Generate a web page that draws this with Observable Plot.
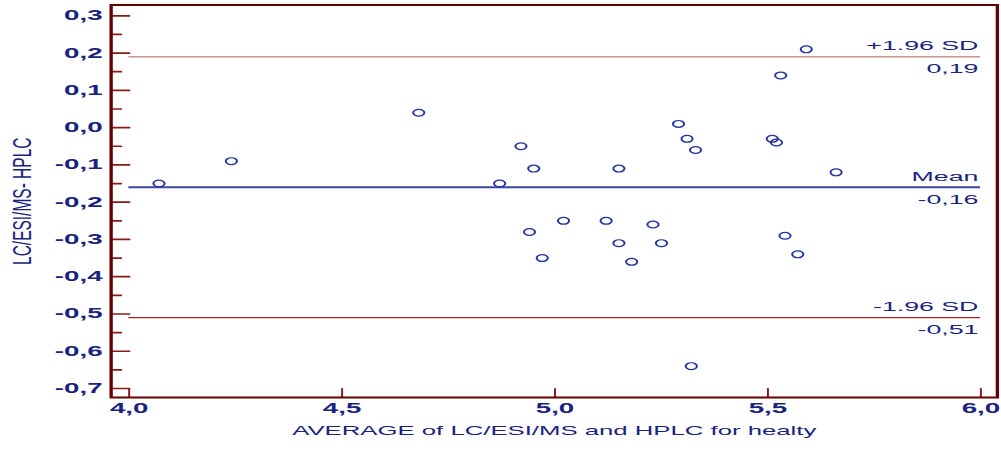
<!DOCTYPE html>
<html>
<head>
<meta charset="utf-8">
<script src="https://cdn.jsdelivr.net/npm/d3@7"></script>
<script src="https://cdn.jsdelivr.net/npm/@observablehq/plot@0.6"></script>
<style>
  html, body { margin: 0; padding: 0; background: #fff; overflow: hidden; }
  #chart svg { display: block; transform-origin: 0 0; }
</style>
</head>
<body>
<div id="chart"></div>
<script>
// Bland–Altman plot: LC/ESI/MS versus HPLC in healthy subjects

// Mean of the two methods (x) and their difference (y), one entry per subject
const average = [4.07, 4.24, 4.68, 4.92, 4.95, 4.87, 4.94, 4.97, 5.02, 5.12, 5.15, 5.15, 5.18,
                 5.23, 5.25, 5.29, 5.31, 5.33, 5.32, 5.51, 5.52, 5.53, 5.59, 5.54, 5.57, 5.66];
const difference = [-0.15, -0.09, 0.04, -0.05, -0.11, -0.15, -0.28, -0.35, -0.25, -0.25, -0.11, -0.31, -0.36,
                    -0.26, -0.31, 0.01, -0.03, -0.06, -0.64, -0.03, -0.04, 0.14, 0.21, -0.29, -0.34, -0.12];

// Mean difference and limits of agreement
const limitLabels = ["+1.96 SD", "Mean", "-1.96 SD"];
const limitValues = [0.19, -0.16, -0.51];

// Axis ticks
const xTicks = [4.0, 4.5, 5.0, 5.5, 6.0];
const yTicks = [0.3, 0.2, 0.1, 0.0, -0.1, -0.2, -0.3, -0.4, -0.5, -0.6, -0.7];
const yMinorTicks = [0.25, 0.15, 0.05, -0.05, -0.15, -0.25, -0.35, -0.45, -0.55, -0.65];

const xTitle = "AVERAGE of LC/ESI/MS and HPLC for healty";
const yTitle = "LC/ESI/MS- HPLC";

// ---- presentation ----
const W = 607, H = 450;
const SX = 1001 / W;          // the whole chart is drawn wide
const TEXT_STRETCH = 1.2;     // extra width for the lettering
const ink = "#1a237e";
const frameColor = "#660000";
const tickColor = "#8b1a1a";
const limitStroke = ["#c99494", "#3b449e", "#a82424"];
const limitWidth = [1.5, 2, 1.2];

const locale = d3.formatLocale({decimal: ",", thousands: ".", grouping: [3], currency: ["", ""], minus: "-"});
const f1 = locale.format(".1f");
const f2 = locale.format(".2f");

const points = average.map((a, i) => ({a, d: difference[i]}));
const limits = limitValues.map((value, i) => ({label: limitLabels[i], value}));
const xStart = xTicks[0], xEnd = xTicks[xTicks.length - 1];

// straight tick stroke for vector marks
const tickLine = {draw(ctx, l) { ctx.moveTo(0, 0); ctx.lineTo(0, -l); }};

const chart = Plot.plot({
  width: W,
  height: H,
  marginLeft: 66.9,
  marginRight: 2.7,
  marginTop: 4.5,
  marginBottom: 53,
  x: {domain: [3.9577, 6.0387], axis: null},
  y: {domain: [-0.7241, 0.329], axis: null},
  style: {fontFamily: "'Liberation Sans', Arial, sans-serif", background: "#fff", overflow: "visible"},
  marks: [
    ...limits.map((l, i) => Plot.ruleY([l], {
      y: "value", x1: () => xStart, x2: () => xEnd,
      stroke: limitStroke[i], strokeWidth: limitWidth[i]
    })),
    Plot.dot(points, {x: "a", y: "d", r: 3.4, fill: "none", stroke: "#2233a0", strokeWidth: 1.2}),
    Plot.vector(yTicks, {y: d => d, frameAnchor: "left", length: 10.9, rotate: 90, anchor: "start",
      shape: tickLine, stroke: tickColor, strokeWidth: 1.7}),
    Plot.vector(yMinorTicks, {y: d => d, frameAnchor: "left", length: 5.9, rotate: 90, anchor: "start",
      shape: tickLine, stroke: tickColor, strokeWidth: 1.7}),
    Plot.vector(xTicks, {x: d => d, frameAnchor: "bottom", length: 9, rotate: 0, anchor: "start",
      shape: tickLine, stroke: tickColor, strokeWidth: 1.2}),
    Plot.frame({stroke: frameColor, strokeWidth: 2}),
    Plot.text(yTicks, {y: d => d, frameAnchor: "left", dx: -5.2, textAnchor: "end", text: d => f1(d),
      fill: ink, fontSize: 14, fontWeight: "bold"}),
    Plot.text(xTicks, {x: d => d, frameAnchor: "bottom", dy: 15.5, text: d => f1(d),
      fill: ink, fontSize: 14, fontWeight: "bold"}),
    Plot.text(limits, {x: () => xEnd, y: "value", text: "label", textAnchor: "end", dx: -1.5, dy: -11,
      fill: ink, fontSize: 13.5}),
    Plot.text(limits, {x: () => xEnd, y: "value", text: d => f2(d.value), textAnchor: "end", dx: -1.5, dy: 12,
      fill: ink, fontSize: 13.5}),
    Plot.text([xTitle], {frameAnchor: "bottom", dy: 37, text: d => d, fill: ink, fontSize: 13}),
    Plot.text([yTitle], {frameAnchor: "left", dx: -53.6, rotate: -90, textAnchor: "middle", text: d => d,
      fill: ink, fontSize: 15.5})
  ]
});

// widen horizontal lettering around its anchor point
chart.querySelectorAll("text").forEach(t => {
  const tr = t.getAttribute("transform") || "";
  if (tr.includes("rotate")) return;
  if (tr) {
    t.setAttribute("transform", `${tr} scale(${TEXT_STRETCH},1)`);
  } else {
    const x = +t.getAttribute("x") || 0, y = +t.getAttribute("y") || 0;
    t.removeAttribute("x"); t.removeAttribute("y");
    t.setAttribute("transform", `translate(${x},${y}) scale(${TEXT_STRETCH},1)`);
  }
});

chart.style.transform = `scaleX(${SX})`;
chart.style.transformOrigin = "0 0";
document.getElementById("chart").appendChild(chart);
</script>
</body>
</html>
